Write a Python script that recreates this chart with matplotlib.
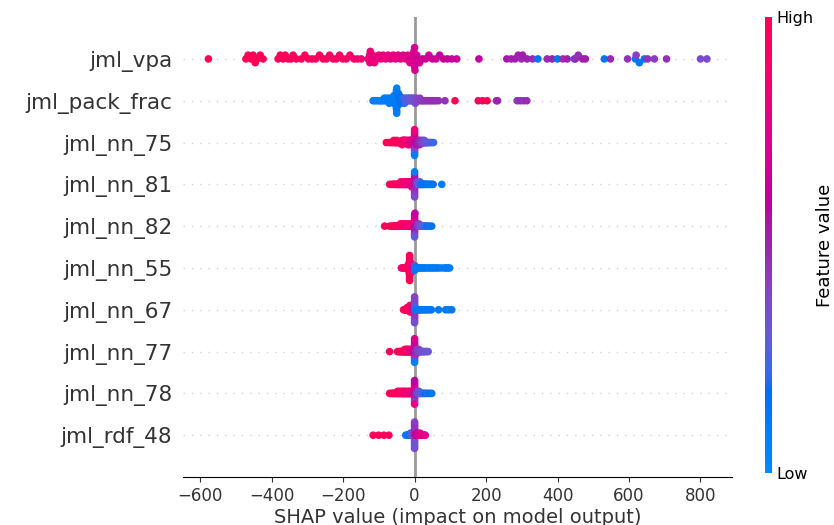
import numpy as np
import matplotlib.pyplot as plt
from matplotlib.colors import LinearSegmentedColormap
from matplotlib.cm import ScalarMappable

# feature names, most important first
features = ["jml_vpa", "jml_pack_frac", "jml_nn_75", "jml_nn_81", "jml_nn_82",
            "jml_nn_55", "jml_nn_67", "jml_nn_77", "jml_nn_78", "jml_rdf_48"]

# SHAP values and normalised feature values per feature
vpa_shap = [
    -577, -472, -466, -458, -452, -446, -440, -432, -424, -382,
    -376, -368, -362, -354, -346, -340, -331, -317, -307, -297,
    -287, -277, -266, -256, -247, -238, -228, -219, -210, -201,
    -191, -181, -170, -160, -149, -130, -126, -125, -124, -121,
    -117, -112, -106, -100, -94, -88, -81, -74, -67, -60,
    -53, -46, -39, -32, -25, -19, -13, -8, -5, -3,
    -2, 0, 0, 1, 3, 6, 14, 22, 31, 40,
    50, 60, 70, 81, 92, 104, 118, 180, 258, 270,
    281, 290, 299, 302, 315, 330, 345, 371, 385, 400,
    415, 427, 447, 450, 458, 470, 478, 531, 548, 596,
    618, 620, 629, 643, 652, 671, 705, 800, 818,
]
vpa_val = [
    1.0, 0.98, 0.97, 0.98, 0.96, 0.97, 0.98, 0.96, 0.97, 0.97,
    0.96, 0.97, 0.95, 0.96, 0.97, 0.95, 0.96, 0.95, 0.94, 0.95,
    0.94, 0.95, 0.93, 0.94, 0.93, 0.92, 0.93, 0.91, 0.92, 0.90,
    0.91, 0.89, 0.90, 0.88, 0.87, 0.84, 0.83, 0.82, 0.84, 0.82,
    0.81, 0.80, 0.82, 0.79, 0.80, 0.78, 0.80, 0.79, 0.77, 0.78,
    0.77, 0.76, 0.78, 0.75, 0.76, 0.74, 0.75, 0.73, 0.74, 0.72,
    0.73, 0.72, 0.70, 0.71, 0.70, 0.70, 0.68, 0.69, 0.67, 0.68,
    0.66, 0.67, 0.65, 0.66, 0.64, 0.65, 0.66, 0.62, 0.55, 0.50,
    0.52, 0.50, 0.48, 0.52, 0.50, 0.47, 0.15, 0.48, 0.50, 0.15,
    0.47, 0.52, 0.15, 0.48, 0.46, 0.50, 0.52, 0.15, 0.48, 0.46,
    0.15, 0.42, 0.14, 0.15, 0.46, 0.42, 0.46, 0.36, 0.36,
]

pf_shap = [
    -116, -110, -104, -99, -95, -92, -88, -85, -82, -80,
    -77, -75, -73, -71, -69, -67, -65, -64, -62, -60,
    -59, -58, -57, -56, -55, -54, -53, -53, -52, -52,
    -51, -51, -51, -51, -50, -50, -50, -49, -49, -48,
    -48, -47, -46, -45, -44, -43, -42, -40, -38, -37,
    -35, -33, -32, -30, -28, -26, -24, -22, -20, -18,
    -16, -14, -12, -10, -8, -6, -4, -2, 0, 2,
    4, 6, 9, 12, 15, 18, 22, 26, 30, 35,
    40, 45, 50, 55, 60, 67, 85, 113, 178, 190,
    203, 229, 232, 287, 296, 305, 314,
]
pf_val = [
    0.12, 0.10, 0.08, 0.10, 0.12, 0.08, 0.10, 0.12, 0.09, 0.10,
    0.11, 0.08, 0.10, 0.12, 0.09, 0.10, 0.11, 0.08, 0.10, 0.12,
    0.09, 0.10, 0.11, 0.08, 0.10, 0.09, 0.12, 0.10, 0.11, 0.08,
    0.10, 0.12, 0.09, 0.10, 0.11, 0.08, 0.10, 0.12, 0.09, 0.11,
    0.10, 0.12, 0.14, 0.12, 0.15, 0.13, 0.16, 0.15, 0.17, 0.16,
    0.18, 0.20, 0.19, 0.22, 0.21, 0.24, 0.23, 0.26, 0.25, 0.28,
    0.27, 0.30, 0.29, 0.31, 0.30, 0.32, 0.33, 0.34, 0.35, 0.36,
    0.37, 0.38, 0.39, 0.40, 0.41, 0.42, 0.43, 0.44, 0.45, 0.46,
    0.45, 0.47, 0.46, 0.48, 0.46, 0.47, 0.45, 0.96, 0.97, 0.96,
    0.97, 0.46, 0.50, 0.45, 0.47, 0.46, 0.48,
]

n75_shap = [
    -79, -71, -66, -62, -58, -58, -55, -52, -50, -50,
    -47, -45, -44, -42, -41, -40, -38, -37, -36, -35,
    -35, -33, -32, -31, -30, -30, -28, -27, -26, -25,
    -25, -24, -22, -21, -20, -20, -19, -18, -17, -16,
    -16, -15, -14, -13, -12, -12, -11, -10, -9, -9,
    -8, -7, -6, -6, -5, -4, -3, -3, -2, -1,
    0, 0, 0, 0, 0, 0, 0, 0, 0, 0,
    0, 0, 0, 1, 2, 3, 3, 4, 5, 6,
    6, 7, 8, 9, 10, 10, 11, 12, 13, 14,
    14, 15, 16, 17, 18, 19, 20, 21, 22, 23,
    24, 25, 26, 27, 29, 30, 32, 34, 36, 38,
    41, 45, 48, 53,
]
n75_val = [
    0.97, 0.97, 0.96, 0.97, 0.95, 0.97, 0.96, 0.95, 0.97, 0.94,
    0.96, 0.95, 0.93, 0.96, 0.94, 0.95, 0.93, 0.95, 0.92, 0.94,
    0.91, 0.93, 0.92, 0.90, 0.93, 0.89, 0.91, 0.90, 0.88, 0.91,
    0.87, 0.89, 0.86, 0.88, 0.85, 0.87, 0.84, 0.86, 0.83, 0.85,
    0.82, 0.84, 0.80, 0.83, 0.79, 0.81, 0.78, 0.80, 0.76, 0.79,
    0.75, 0.77, 0.74, 0.76, 0.72, 0.75, 0.70, 0.73, 0.69, 0.71,
    0.65, 0.78, 0.55, 0.75, 0.50, 0.80, 0.45, 0.72, 0.40, 0.78,
    0.35, 0.82, 0.10, 0.68, 0.65, 0.62, 0.66, 0.60, 0.63, 0.58,
    0.61, 0.56, 0.59, 0.54, 0.57, 0.52, 0.55, 0.50, 0.53, 0.48,
    0.51, 0.46, 0.49, 0.44, 0.47, 0.42, 0.45, 0.40, 0.43, 0.38,
    0.41, 0.36, 0.39, 0.34, 0.37, 0.32, 0.35, 0.30, 0.33, 0.28,
    0.30, 0.25, 0.28, 0.22,
]

n81_shap = [
    -70, -64, -60, -57, -55, -52, -50, -48, -46, -45,
    -43, -42, -40, -39, -38, -36, -35, -34, -32, -31,
    -30, -29, -28, -27, -26, -25, -24, -23, -22, -21,
    -20, -19, -18, -17, -16, -15, -14, -13, -12, -11,
    -10, -9, -8, -8, -7, -6, -5, -4, -3, -2,
    -1, 0, 0, 0, 0, 0, 0, 0, 0, 0,
    0, 0, 1, 2, 3, 4, 5, 6, 7, 8,
    9, 10, 11, 12, 13, 14, 15, 16, 18, 19,
    21, 22, 24, 26, 28, 30, 33, 36, 39, 42,
    45, 48, 52, 76,
]
n81_val = [
    0.97, 0.96, 0.97, 0.95, 0.96, 0.94, 0.96, 0.93, 0.95, 0.92,
    0.94, 0.91, 0.93, 0.90, 0.92, 0.89, 0.91, 0.88, 0.90, 0.87,
    0.89, 0.86, 0.88, 0.85, 0.87, 0.84, 0.86, 0.83, 0.85, 0.82,
    0.84, 0.81, 0.83, 0.80, 0.82, 0.79, 0.81, 0.78, 0.80, 0.77,
    0.79, 0.76, 0.78, 0.74, 0.77, 0.73, 0.75, 0.72, 0.74, 0.70,
    0.72, 0.62, 0.70, 0.55, 0.66, 0.50, 0.60, 0.46, 0.52, 0.42,
    0.10, 0.38, 0.58, 0.55, 0.52, 0.50, 0.47, 0.45, 0.42, 0.40,
    0.38, 0.36, 0.34, 0.32, 0.30, 0.28, 0.26, 0.24, 0.22, 0.20,
    0.18, 0.16, 0.20, 0.15, 0.18, 0.14, 0.16, 0.12, 0.15, 0.12,
    0.14, 0.12, 0.15, 0.10,
]

n82_shap = [
    -84, -70, -64, -61, -58, -56, -54, -52, -50, -49,
    -47, -46, -45, -43, -42, -41, -40, -39, -38, -37,
    -36, -35, -34, -33, -32, -31, -30, -29, -28, -27,
    -26, -25, -24, -23, -22, -21, -20, -19, -18, -17,
    -16, -15, -14, -13, -12, -11, -10, -9, -8, -7,
    -6, -5, -4, -3, -2, -1, 0, 0, 0, 0,
    0, 0, 0, 0, 0, 0, 0, 1, 2, 3,
    4, 5, 6, 7, 8, 9, 10, 12, 13, 15,
    16, 18, 20, 22, 24, 26, 28, 31, 34, 38,
    42, 48,
]
n82_val = [
    0.97, 0.97, 0.96, 0.97, 0.95, 0.96, 0.97, 0.94, 0.96, 0.95,
    0.93, 0.96, 0.94, 0.92, 0.95, 0.93, 0.91, 0.94, 0.92, 0.90,
    0.93, 0.91, 0.89, 0.92, 0.90, 0.88, 0.91, 0.89, 0.87, 0.90,
    0.88, 0.86, 0.89, 0.87, 0.85, 0.88, 0.86, 0.84, 0.87, 0.85,
    0.83, 0.86, 0.84, 0.82, 0.85, 0.83, 0.81, 0.84, 0.82, 0.80,
    0.82, 0.79, 0.81, 0.78, 0.80, 0.76, 0.70, 0.80, 0.62, 0.76,
    0.55, 0.82, 0.48, 0.75, 0.42, 0.70, 0.30, 0.62, 0.60, 0.58,
    0.56, 0.54, 0.52, 0.50, 0.48, 0.46, 0.44, 0.42, 0.40, 0.38,
    0.36, 0.34, 0.32, 0.30, 0.28, 0.26, 0.24, 0.22, 0.20, 0.18,
    0.20, 0.16,
]

n55_shap = [
    -37, -33, -29, -26, -24, -22, -20, -19, -18, -17,
    -16, -16, -15, -15, -15, -14, -14, -14, -14, -14,
    -14, -14, -14, -14, -14, -14, -13, -13, -13, -12,
    -12, -12, -11, -11, -10, -9, -8, -7, -6, -5,
    -4, -3, -2, -1, 0, 0, 1, 4, 8, 11,
    15, 19, 23, 27, 31, 36, 41, 46, 51, 56,
    62, 68, 76, 84, 88, 93, 98,
]
n55_val = [
    0.80, 0.85, 0.92, 0.95, 0.94, 0.96, 0.95, 0.97, 0.94, 0.96,
    0.95, 0.97, 0.94, 0.96, 0.97, 0.95, 0.98, 0.94, 0.97, 0.96,
    0.95, 0.98, 0.93, 0.97, 0.96, 0.99, 0.95, 0.97, 0.94, 0.96,
    0.93, 0.95, 0.92, 0.94, 0.90, 0.93, 0.88, 0.90, 0.85, 0.80,
    0.75, 0.70, 0.65, 0.55, 0.40, 0.12, 0.30, 0.15, 0.12, 0.10,
    0.13, 0.11, 0.12, 0.10, 0.12, 0.11, 0.09, 0.12, 0.10, 0.11,
    0.09, 0.12, 0.10, 0.11, 0.09, 0.12, 0.10,
]

n67_shap = [
    -31, -28, -26, -24, -22, -21, -20, -19, -18, -17,
    -16, -15, -15, -14, -14, -13, -13, -12, -12, -11,
    -11, -10, -10, -9, -9, -8, -8, -7, -6, -5,
    -4, -3, -2, -1, 0, 0, 0, 0, 0, 0,
    0, 0, 0, 0, 0, 0, 0, 1, 2, 3,
    5, 7, 9, 12, 15, 18, 21, 25, 29, 33,
    37, 42, 47, 67, 87, 95, 104,
]
n67_val = [
    0.95, 0.97, 0.96, 0.98, 0.95, 0.97, 0.96, 0.98, 0.94, 0.97,
    0.96, 0.98, 0.95, 0.97, 0.94, 0.96, 0.98, 0.95, 0.97, 0.94,
    0.96, 0.93, 0.95, 0.92, 0.94, 0.90, 0.92, 0.88, 0.85, 0.80,
    0.75, 0.70, 0.65, 0.60, 0.50, 0.45, 0.52, 0.42, 0.48, 0.40,
    0.46, 0.38, 0.44, 0.36, 0.42, 0.40, 0.35, 0.30, 0.25, 0.20,
    0.15, 0.12, 0.14, 0.10, 0.13, 0.11, 0.12, 0.10, 0.13, 0.11,
    0.12, 0.10, 0.13, 0.11, 0.12, 0.10, 0.13,
]

n77_shap = [
    -70, -48, -45, -42, -40, -38, -36, -34, -33, -31,
    -30, -28, -28, -27, -26, -25, -24, -24, -23, -22,
    -21, -20, -20, -19, -18, -17, -16, -16, -15, -14,
    -13, -12, -12, -11, -10, -9, -8, -8, -7, -6,
    -5, -4, -3, -2, -1, 0, 0, 0, 0, 0,
    0, 0, 0, 0, 0, 0, 0, 1, 2, 3,
    4, 4, 5, 6, 7, 8, 8, 9, 10, 11,
    12, 12, 14, 15, 17, 19, 21, 23, 25, 28,
    31, 34, 38,
]
n77_val = [
    0.97, 0.95, 0.96, 0.94, 0.96, 0.95, 0.93, 0.96, 0.94, 0.92,
    0.95, 0.93, 0.96, 0.91, 0.94, 0.92, 0.90, 0.95, 0.91, 0.89,
    0.93, 0.90, 0.88, 0.92, 0.89, 0.87, 0.91, 0.86, 0.88, 0.85,
    0.87, 0.84, 0.86, 0.82, 0.84, 0.80, 0.82, 0.78, 0.80, 0.76,
    0.75, 0.73, 0.72, 0.70, 0.68, 0.62, 0.72, 0.55, 0.68, 0.50,
    0.66, 0.46, 0.70, 0.42, 0.64, 0.10, 0.75, 0.55, 0.52, 0.50,
    0.48, 0.50, 0.46, 0.48, 0.44, 0.46, 0.42, 0.44, 0.40, 0.42,
    0.38, 0.40, 0.36, 0.38, 0.35, 0.36, 0.34, 0.35, 0.33, 0.34,
    0.32, 0.33, 0.32,
]

n78_shap = [
    -70, -66, -62, -60, -58, -55, -53, -52, -50, -48,
    -47, -45, -44, -42, -41, -40, -38, -37, -36, -35,
    -34, -33, -32, -31, -30, -29, -28, -27, -26, -25,
    -24, -23, -22, -21, -20, -19, -18, -17, -16, -15,
    -14, -13, -12, -11, -10, -9, -8, -7, -6, -5,
    -4, -3, -2, -1, 0, 0, 0, 0, 0, 0,
    0, 0, 0, 0, 0, 0, 1, 2, 3, 4,
    5, 6, 7, 8, 9, 10, 11, 12, 14, 16,
    18, 20, 22, 25, 28, 31, 35, 40, 44, 48,
]
n78_val = [
    0.97, 0.96, 0.97, 0.95, 0.96, 0.97, 0.94, 0.96, 0.95, 0.93,
    0.96, 0.94, 0.92, 0.95, 0.93, 0.91, 0.94, 0.92, 0.90, 0.93,
    0.91, 0.89, 0.92, 0.90, 0.88, 0.91, 0.89, 0.87, 0.90, 0.88,
    0.86, 0.89, 0.87, 0.85, 0.88, 0.86, 0.84, 0.87, 0.85, 0.83,
    0.86, 0.84, 0.82, 0.85, 0.83, 0.81, 0.84, 0.82, 0.80, 0.78,
    0.80, 0.76, 0.78, 0.74, 0.62, 0.70, 0.55, 0.74, 0.50, 0.68,
    0.45, 0.72, 0.40, 0.66, 0.78, 0.60, 0.58, 0.55, 0.52, 0.50,
    0.48, 0.46, 0.44, 0.42, 0.40, 0.38, 0.36, 0.34, 0.32, 0.30,
    0.28, 0.26, 0.24, 0.22, 0.20, 0.18, 0.20, 0.16, 0.18, 0.15,
]

rdf_shap = [
    -116, -101, -86, -72, -25, -22, -20, -18, -16, -14,
    -13, -12, -11, -10, -9, -8, -7, -6, -5, -4,
    -3, -2, -1, 0, 0, 0, 0, 0, 0, 0,
    0, 0, 0, 0, 0, 0, 0, 1, 2, 3,
    4, 5, 6, 7, 8, 9, 10, 11, 12, 13,
    14, 15, 16, 18, 20, 22, 25, 28, 30,
]
rdf_val = [
    0.96, 0.97, 0.95, 0.96, 0.12, 0.10, 0.14, 0.11, 0.13, 0.15,
    0.18, 0.16, 0.20, 0.22, 0.25, 0.24, 0.28, 0.30, 0.32, 0.35,
    0.38, 0.40, 0.42, 0.45, 0.40, 0.48, 0.38, 0.50, 0.36, 0.46,
    0.34, 0.44, 0.32, 0.48, 0.30, 0.42, 0.35, 0.50, 0.52, 0.54,
    0.56, 0.58, 0.60, 0.62, 0.64, 0.66, 0.68, 0.70, 0.66, 0.70,
    0.72, 0.68, 0.72, 0.74, 0.70, 0.75, 0.72, 0.76, 0.74,
]

rows = [(vpa_shap, vpa_val), (pf_shap, pf_val), (n75_shap, n75_val),
        (n81_shap, n81_val), (n82_shap, n82_val), (n55_shap, n55_val),
        (n67_shap, n67_val), (n77_shap, n77_val), (n78_shap, n78_val),
        (rdf_shap, rdf_val)]


def lch_to_rgb(l, c, h):
    # CIE LCh -> Lab -> XYZ (D65) -> sRGB
    a, b = c * np.cos(h), c * np.sin(h)
    fy = (l + 16) / 116
    fx = fy + a / 500
    fz = fy - b / 200

    def finv(t):
        return t ** 3 if t ** 3 > 0.008856 else (t - 16 / 116) / 7.787

    xyz = np.array([0.95047 * finv(fx), finv(fy), 1.08883 * finv(fz)])
    m = np.array([[3.2404542, -1.5371385, -0.4985314],
                  [-0.9692660, 1.8760108, 0.0415560],
                  [0.0556434, -0.2040259, 1.0572252]])
    lin = m @ xyz
    rgb = np.where(lin > 0.0031308, 1.055 * np.abs(lin) ** (1 / 2.4) - 0.055, 12.92 * lin)
    return np.clip(rgb, 0, 1)


# blue -> red colormap interpolated in LCh space
nsteps = 100
blue_lch = [54., 70., 4.6588]
red_lch = [54., 90., 0.35470565 + 2 * np.pi]
l_vals = list(np.linspace(blue_lch[0], 40., nsteps // 2)) + list(np.linspace(40., red_lch[0], nsteps // 2))
c_vals = np.linspace(blue_lch[1], red_lch[1], nsteps)
h_vals = np.linspace(blue_lch[2], red_lch[2], nsteps)
cmap = LinearSegmentedColormap.from_list(
    "red_blue", [lch_to_rgb(l, c, h) for l, c, h in zip(l_vals, c_vals, h_vals)])


def swarm_offsets(shaps, row_height=0.4, nbins=100):
    shaps = np.asarray(shaps, dtype=float)
    quant = np.round(nbins * (shaps - shaps.min()) / (shaps.max() - shaps.min() + 1e-8))
    order = np.argsort(quant, kind="stable")
    ys = np.zeros(len(shaps))
    layer = 0
    last_bin = -1
    for i in order:
        if quant[i] != last_bin:
            layer = 0
        ys[i] = np.ceil(layer / 2) * ((layer % 2) * 2 - 1)
        layer += 1
        last_bin = quant[i]
    ys *= 0.9 * (row_height / np.max(ys + 1))
    return ys


axis_color = "#333333"
fig = plt.figure(figsize=(8.34, 5.25), dpi=100)
ax = fig.add_axes([0.220, 0.0914, 0.6575, 0.876])

n = len(features)
ax.axvline(x=0, color="#999999", lw=2, zorder=-1)
for i, (shaps, vals) in enumerate(rows):
    pos = n - 1 - i
    ax.axhline(y=pos, color="#d0d0d0", lw=1, dashes=(1, 5), zorder=-1)
    ax.scatter(shaps, pos + swarm_offsets(shaps), c=vals, cmap=cmap, vmin=0, vmax=1,
               s=30, linewidth=0, zorder=3)

ax.set_yticks(range(n))
ax.set_yticklabels(features[::-1], fontsize=15.5)
ax.set_ylim(-1, n)
ax.xaxis.set_ticks_position("bottom")
ax.yaxis.set_ticks_position("none")
ax.tick_params("y", length=20, width=0.5, pad=-12)
ax.tick_params("x", labelsize=12)
ax.tick_params(color=axis_color, labelcolor=axis_color)
for side in ["right", "top", "left"]:
    ax.spines[side].set_visible(False)
ax.set_xlabel("SHAP value (impact on model output)", fontsize=14, color=axis_color, labelpad=2)

cax = fig.add_axes([0.917, 0.099, 0.0084, 0.869])
cb = fig.colorbar(ScalarMappable(cmap=cmap), cax=cax, ticks=[0, 1])
cb.set_ticklabels(["Low", "High"])
cb.ax.tick_params(labelsize=11.5, length=0, pad=3)
cb.set_label("Feature value", size=13, labelpad=2)
cb.outline.set_visible(False)

fig.savefig("out.png", dpi=100)
